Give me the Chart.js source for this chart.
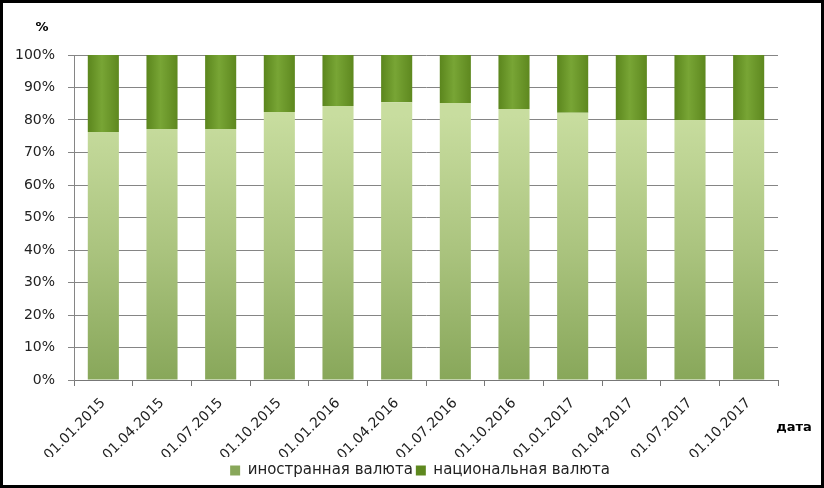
<!DOCTYPE html>
<html>
<head>
<meta charset="utf-8">
<script src="https://cdn.jsdelivr.net/npm/chart.js@4/dist/chart.umd.min.js"></script>
<style>
  html, body { margin: 0; padding: 0; background: #fff; }
  #wrap { position: absolute; left: 0; top: 0; width: 824px; height: 488px; box-sizing: border-box; border: 3px solid #000; background: #fff; }
  canvas { display: block; }
</style>
</head>
<body>
<div id="wrap"><canvas id="c" width="818" height="482"></canvas></div>
<script>
const categories = ["01.01.2015","01.04.2015","01.07.2015","01.10.2015","01.01.2016","01.04.2016","01.07.2016","01.10.2016","01.01.2017","01.04.2017","01.07.2017","01.10.2017"];
const foreignCurrency = [76.3, 77.2, 77.2, 82.5, 84.3, 85.5, 85.2, 83.4, 82.2, 80.0, 80.0, 80.0];
const nationalCurrency = [23.7, 22.8, 22.8, 17.5, 15.7, 14.5, 14.8, 16.6, 17.8, 20.0, 20.0, 20.0];
const seriesNames = ["иностранная валюта", "национальная валюта"];
const yTicks = [0, 10, 20, 30, 40, 50, 60, 70, 80, 90, 100];

const FONT = "'DejaVu Sans', Verdana, sans-serif";
const BAR_FRAC = 0.53;

function barGradient(ctx, stops, fallback) {
  const chart = ctx.chart;
  if (!chart.chartArea || !chart.scales.x) return fallback;
  const xs = chart.scales.x;
  const cx = xs.getPixelForValue(ctx.dataIndex);
  const w = (xs.width / categories.length) * BAR_FRAC;
  const g = chart.ctx.createLinearGradient(cx - w / 2, 0, cx + w / 2, 0);
  stops.forEach(s => g.addColorStop(s[0], s[1]));
  return g;
}
function lightGrad(ctx) {
  const chart = ctx.chart;
  if (!chart.chartArea) return '#b9d08e';
  const a = chart.chartArea;
  const g = chart.ctx.createLinearGradient(0, a.top + 60, 0, a.bottom);
  g.addColorStop(0, '#c8dd9f');
  g.addColorStop(0.5, '#abc47f');
  g.addColorStop(1, '#88a75a');
  return g;
}

const labelPlugin = {
  id: 'extraText',
  afterLayout(chart) {
    const lg = chart.legend;
    if (lg) { lg.left += 8; lg.right += 8; lg.top += 3; lg.bottom += 3; }
  },
  afterDraw(chart) {
    const c = chart.ctx;
    c.save();
    c.fillStyle = '#000';
    c.font = "bold 13px " + FONT;
    c.textAlign = 'center';
    c.textBaseline = 'middle';
    c.fillText('%', 39, 25);
    c.fillText('дата', 791, 425);
    c.restore();
  }
};

new Chart(document.getElementById('c'), {
  type: 'bar',
  data: {
    labels: categories,
    datasets: [
      {
        label: seriesNames[0],
        data: foreignCurrency,
        backgroundColor: lightGrad,
        borderWidth: 0,
        barPercentage: 0.9,
        categoryPercentage: BAR_FRAC / 0.9
      },
      {
        label: seriesNames[1],
        data: nationalCurrency,
        backgroundColor: ctx => barGradient(ctx, [[0, '#5b861d'], [0.45, '#78a535'], [1, '#5e881f']], '#6e9a2a'),
        borderWidth: 0,
        barPercentage: 0.9,
        categoryPercentage: BAR_FRAC / 0.9
      }
    ]
  },
  options: {
    responsive: false,
    animation: false,
    devicePixelRatio: 1,
    layout: { padding: { top: 52, right: 0, left: 0, bottom: 0 } },
    plugins: {
      legend: {
        position: 'bottom',
        labels: {
          color: '#222',
          font: { family: FONT, size: 15 },
          boxWidth: 10,
          boxHeight: 10,
          padding: 3
        }
      },
      tooltip: { enabled: false }
    },
    scales: {
      x: {
        stacked: true,
        grid: { display: true, drawOnChartArea: false, drawTicks: true, tickLength: 6, color: '#777', offset: true },
        border: { color: '#777' },
        ticks: { color: '#222', font: { family: FONT, size: 14 }, minRotation: 45, maxRotation: 45, autoSkip: false, padding: 9 },
        afterFit(scale) { scale.height = 77; }
      },
      y: {
        stacked: true,
        min: 0,
        max: 100,
        afterBuildTicks(scale) { scale.ticks = yTicks.map(v => ({ value: v })); },
        grid: { color: '#858585', tickLength: 6, drawTicks: true },
        border: { color: '#858585' },
        ticks: { color: '#222', font: { family: FONT, size: 14 }, padding: 13, callback: v => v + '%' },
        afterFit(scale) { scale.width = 71; }
      },
      yR: {
        position: 'right',
        display: true,
        grid: { display: false, drawTicks: false },
        border: { display: false },
        ticks: { display: false },
        afterFit(scale) { scale.width = 43; }
      }
    }
  },
  plugins: [labelPlugin]
});
</script>
</body>
</html>
